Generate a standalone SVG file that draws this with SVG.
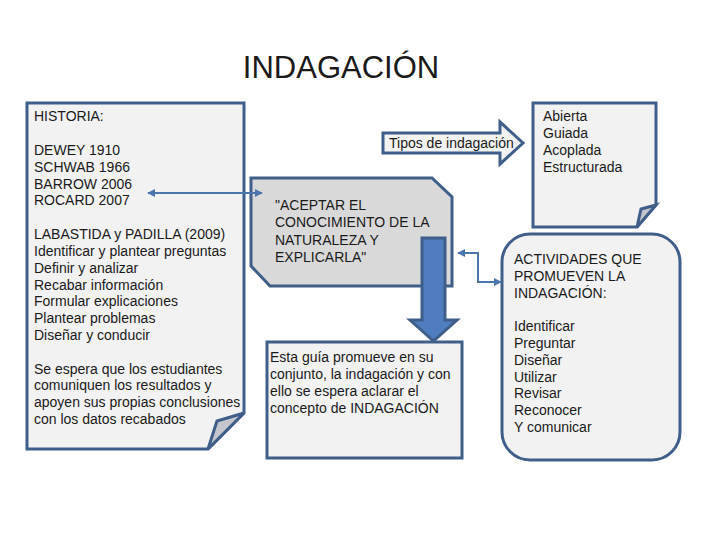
<svg xmlns="http://www.w3.org/2000/svg" width="720" height="540" viewBox="0 0 720 540">
<style>
text{font-family:"Liberation Sans",Arial,sans-serif;font-size:14px;fill:#1a1a1a}
.title{font-size:31px}
.note{fill:#f2f2f2;stroke:#3f5f8a;stroke-width:3;stroke-linejoin:miter}
.fold{fill:#c3c6cc;stroke:#3f5f8a;stroke-width:3;stroke-linejoin:miter}
.grey{fill:#d9d9d9;stroke:#3f5f8a;stroke-width:3}
.blk{fill:#4f7dbf;stroke:#3f5f8a;stroke-width:3}
.conn{fill:none;stroke:#4a75ad;stroke-width:2}
</style>
<defs>
<marker id="ah" viewBox="0 0 10 10" refX="9" refY="5" markerWidth="4" markerHeight="4" orient="auto-start-reverse" markerUnits="strokeWidth">
<path d="M0,0 L10,5 L0,10 Z" fill="#4a75ad"/>
</marker>
</defs>
<rect width="720" height="540" fill="#ffffff"/>
<text class="title" x="341" y="78" text-anchor="middle">INDAGACIÓN</text>

<g id="historia">
<path class="note" d="M27,103 H244 V413 L208,449 H27 Z"/>
<path class="fold" d="M244,413 L217,421 L208,449 Z"/>
<text x="34">
<tspan x="34" y="121">HISTORIA:</tspan>
<tspan x="34" y="155">DEWEY 1910</tspan>
<tspan x="34" y="172">SCHWAB 1966</tspan>
<tspan x="34" y="189">BARROW 2006</tspan>
<tspan x="34" y="205">ROCARD 2007</tspan>
<tspan x="34" y="239">LABASTIDA y PADILLA (2009)</tspan>
<tspan x="34" y="256">Identificar y plantear preguntas</tspan>
<tspan x="34" y="273">Definir y analizar</tspan>
<tspan x="34" y="290">Recabar información</tspan>
<tspan x="34" y="306">Formular explicaciones</tspan>
<tspan x="34" y="323">Plantear problemas</tspan>
<tspan x="34" y="340">Diseñar y conducir</tspan>
<tspan x="34" y="374">Se espera que los estudiantes</tspan>
<tspan x="34" y="390">comuniquen los resultados y</tspan>
<tspan x="34" y="407">apoyen sus propias conclusiones</tspan>
<tspan x="34" y="424">con los datos recabados</tspan>
</text>
</g>

<g id="tipos">
<path class="note" d="M383,133 H500 V122 L523,143 L500,164 V153 H383 Z"/>
<text x="389" y="148">Tipos de indagación</text>
</g>

<g id="tiposlista">
<path class="note" d="M533,103 H656 V205 L637,227 H533 Z"/>
<path class="fold" d="M656,205 L641,209 L637,227 Z"/>
<text>
<tspan x="543" y="121">Abierta</tspan>
<tspan x="543" y="138">Guiada</tspan>
<tspan x="543" y="155">Acoplada</tspan>
<tspan x="543" y="172">Estructurada</tspan>
</text>
</g>

<g id="aceptar">
<path class="grey" d="M251,178 H432 L452,197 V286 H270 L251,266 Z"/>
<text>
<tspan x="275" y="210">"ACEPTAR EL</tspan>
<tspan x="275" y="227">CONOCIMIENTO DE LA</tspan>
<tspan x="275" y="245">NATURALEZA Y</tspan>
<tspan x="275" y="262">EXPLICARLA"</tspan>
</text>
</g>

<g id="guia">
<rect class="note" x="267" y="342" width="195" height="116"/>
<text>
<tspan x="270" y="362">Esta guía promueve en su</tspan>
<tspan x="270" y="379">conjunto, la indagación y con</tspan>
<tspan x="270" y="396">ello se espera aclarar el</tspan>
<tspan x="270" y="413">concepto de INDAGACIÓN</tspan>
</text>
</g>

<g id="actividades">
<rect class="note" x="502" y="234" width="178" height="226" rx="28" ry="28"/>
<text>
<tspan x="514" y="264">ACTIVIDADES QUE</tspan>
<tspan x="514" y="281">PROMUEVEN LA</tspan>
<tspan x="514" y="298">INDAGACIÓN:</tspan>
<tspan x="514" y="331">Identificar</tspan>
<tspan x="514" y="348">Preguntar</tspan>
<tspan x="514" y="365">Diseñar</tspan>
<tspan x="514" y="382">Utilizar</tspan>
<tspan x="514" y="398">Revisar</tspan>
<tspan x="514" y="415">Reconocer</tspan>
<tspan x="514" y="432">Y comunicar</tspan>
</text>
</g>

<g id="connectors">
<path class="blk" d="M422,238 H445 V320 H457 L433.5,341 L410,320 H422 Z"/>
<path class="conn" d="M148,193 H262" marker-start="url(#ah)" marker-end="url(#ah)"/>
<path class="conn" d="M458,253 H478 V282 H501" marker-start="url(#ah)" marker-end="url(#ah)"/>
</g>
</svg>
